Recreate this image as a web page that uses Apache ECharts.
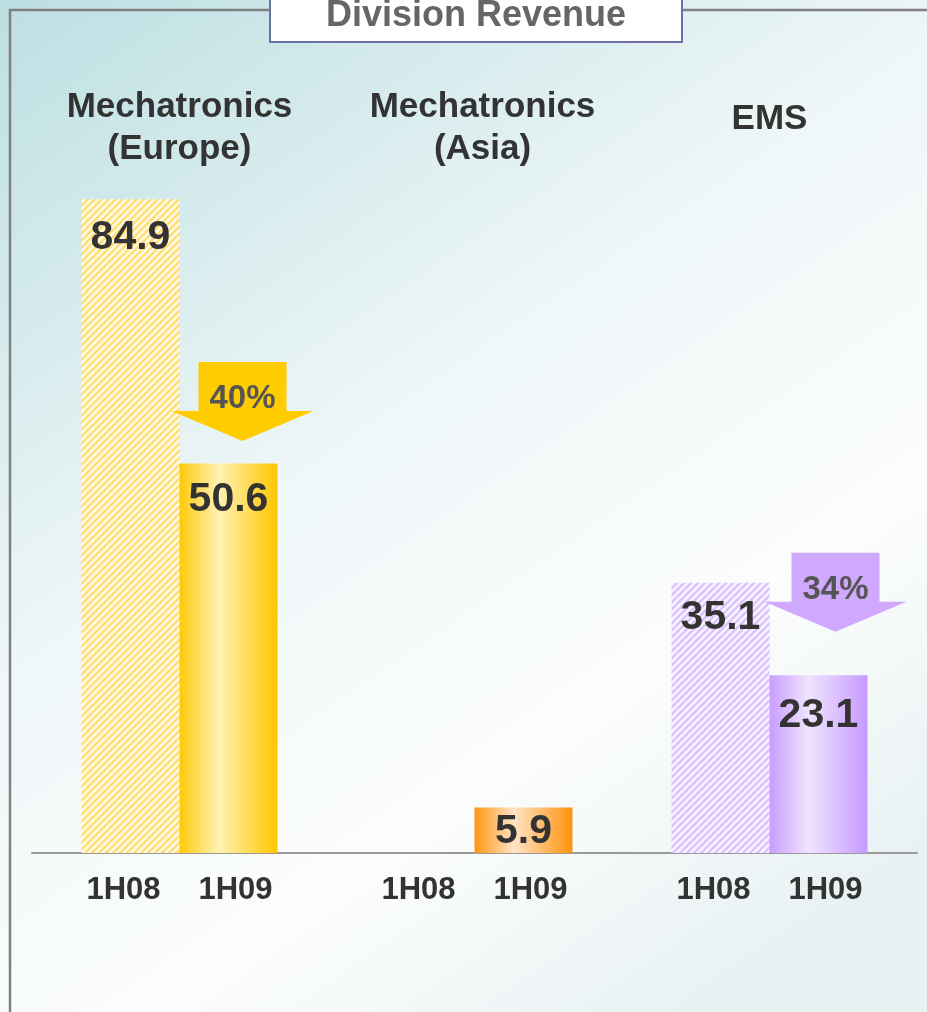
<!DOCTYPE html>
<html>
<head>
<meta charset="utf-8">
<script src="https://cdn.jsdelivr.net/npm/echarts@6/dist/echarts.min.js"></script>
<style>
  html, body { margin: 0; padding: 0; }
  #chart { width: 927px; height: 1012px; }
</style>
</head>
<body>
<div id="chart"></div>
<script>
// Half-year revenue per division
const groups = ['Mechatronics\n(Europe)', 'Mechatronics\n(Asia)', 'EMS'];
const periods = ['1H08', '1H09'];
const revenue1H08 = [84.9, null, 35.1];
const revenue1H09 = [50.6, 5.9, 23.1];

const FONT = 'Liberation Sans, Arial, sans-serif';

// Diagonal "///" hatch tile used for the earlier half-year
function hatch(stripe, base) {
  const size = 7;
  const c = document.createElement('canvas');
  c.width = c.height = size;
  const g = c.getContext('2d');
  g.fillStyle = base;
  g.fillRect(0, 0, size, size);
  g.strokeStyle = stripe;
  g.lineWidth = 2.6;
  g.beginPath();
  for (let k = -size; k <= size; k += size) {
    g.moveTo(k - 1, size + 1);
    g.lineTo(k + size + 1, -1);
  }
  g.stroke();
  return { image: c, repeat: 'repeat' };
}

// Horizontal shaded fill for the later half-year
function shade(edge, light, edge2) {
  return {
    type: 'linear', x: 0, y: 0, x2: 1, y2: 0,
    colorStops: [
      { offset: 0, color: edge },
      { offset: 0.4, color: light },
      { offset: 1, color: edge2 }
    ]
  };
}

const fills1H08 = [
  hatch('#ffdf75', '#fffbe8'),
  hatch('#ffc77a', '#fff6ea'),
  hatch('#dcc4ff', '#faf5ff')
];
const fills1H09 = [
  shade('#ffc908', '#fff2b4', '#ffc600'),
  shade('#ff9512', '#ffe4c6', '#ff920c'),
  shade('#c89dff', '#f0e4ff', '#c69aff')
];
const arrowColors = ['#ffcc00', '#ffb04a', '#d0a8fd'];

// Block down-arrow: shaft over a triangular head
const ARROW = 'path://M27,0 L115,0 L115,49 L142,49 L71,79 L0,49 L27,49 Z';
const arrowShift = [[14, -62], [0, -60], [17, -83]];

const declines = [];
revenue1H08.forEach((a, i) => {
  const b = revenue1H09[i];
  if (a != null && b != null) {
    declines.push({
      coord: [groups[i], b],
      value: Math.round((a - b) / a * 100),
      symbolOffset: arrowShift[i],
      itemStyle: { color: arrowColors[i] }
    });
  }
});

const valueLabel = {
  show: true,
  position: 'insideTop',
  distance: 17,
  color: '#333',
  fontSize: 41,
  fontWeight: 'bold',
  fontFamily: FONT
};

// Per-bar spacing between bar top and its value
const labelGap1H08 = [18, 0, 14];
const labelGap1H09 = [16, 4, 20];

// Per-division heading tweaks (single-line heading sits lower, Asia heading nudged right)
const headingStyle = [{}, { padding: [0, 0, 0, 16] }, { lineHeight: 66 }];

const chart = echarts.init(document.getElementById('chart'), null, { renderer: 'canvas' });

chart.setOption({
  animation: false,
  backgroundColor: {
    type: 'linear', x: 0, y: 0, x2: 0.75, y2: 1,
    colorStops: [
      { offset: 0, color: '#bcdfe2' },
      { offset: 0.45, color: '#eef6f7' },
      { offset: 0.75, color: '#fcfdfd' },
      { offset: 1, color: '#e8f1f2' }
    ]
  },
  title: {
    text: 'Division Revenue',
    left: 270,
    top: -12,
    padding: [10, 56, 8, 56],
    backgroundColor: '#ffffff',
    borderColor: '#6d70a6',
    borderWidth: 2,
    textStyle: { fontSize: 36, fontWeight: 'bold', color: '#666', fontFamily: FONT }
  },
  graphic: [{
    type: 'polyline',
    shape: { points: [[10, 1012], [10, 10], [927, 10]] },
    style: { stroke: '#808080', lineWidth: 2.5, fill: null },
    z: -1
  }],
  grid: { left: 32, right: 10, top: 83, bottom: 159 },
  xAxis: [{
    type: 'category',
    data: groups,
    position: 'bottom',
    axisLine: { lineStyle: { color: '#9a9a9a', width: 2 } },
    axisTick: { show: false },
    axisLabel: {
      margin: 22,
      formatter: () => periods.map(p => '{p|' + p + '}').join(''),
      rich: {
        p: { width: 112, align: 'center', fontSize: 31, fontWeight: 'bold', color: '#333', fontFamily: FONT }
      }
    }
  }, {
    type: 'category',
    data: groups.map((g, i) => ({ value: g, textStyle: headingStyle[i] })),
    position: 'top',
    axisLine: { show: false },
    axisTick: { show: false },
    axisLabel: {
      inside: true,
      margin: 3,
      verticalAlign: 'top',
      fontSize: 35,
      lineHeight: 42,
      fontWeight: 'bold',
      color: '#333',
      fontFamily: FONT
    }
  }],
  yAxis: {
    type: 'value', min: 0, max: 100, show: false
  },
  series: [{
    name: periods[0],
    type: 'bar',
    xAxisIndex: 0,
    barWidth: 98,
    barGap: '0%',
    data: revenue1H08.map((v, i) => v == null ? '-' : {
      value: v,
      itemStyle: { color: fills1H08[i] },
      label: { distance: labelGap1H08[i] }
    }),
    label: valueLabel
  }, {
    name: periods[1],
    type: 'bar',
    xAxisIndex: 0,
    barWidth: 98,
    barGap: '0%',
    data: revenue1H09.map((v, i) => ({
      value: v,
      itemStyle: { color: fills1H09[i] },
      label: { distance: labelGap1H09[i] }
    })),
    label: valueLabel,
    markPoint: {
      symbol: ARROW,
      symbolSize: [142, 79],
      label: {
        show: true,
        position: 'inside',
        offset: [0, -2],
        formatter: '{c}%',
        color: '#555',
        fontSize: 33,
        fontWeight: 'bold',
        fontFamily: FONT
      },
      data: declines
    }
  }]
});
</script>
</body>
</html>
